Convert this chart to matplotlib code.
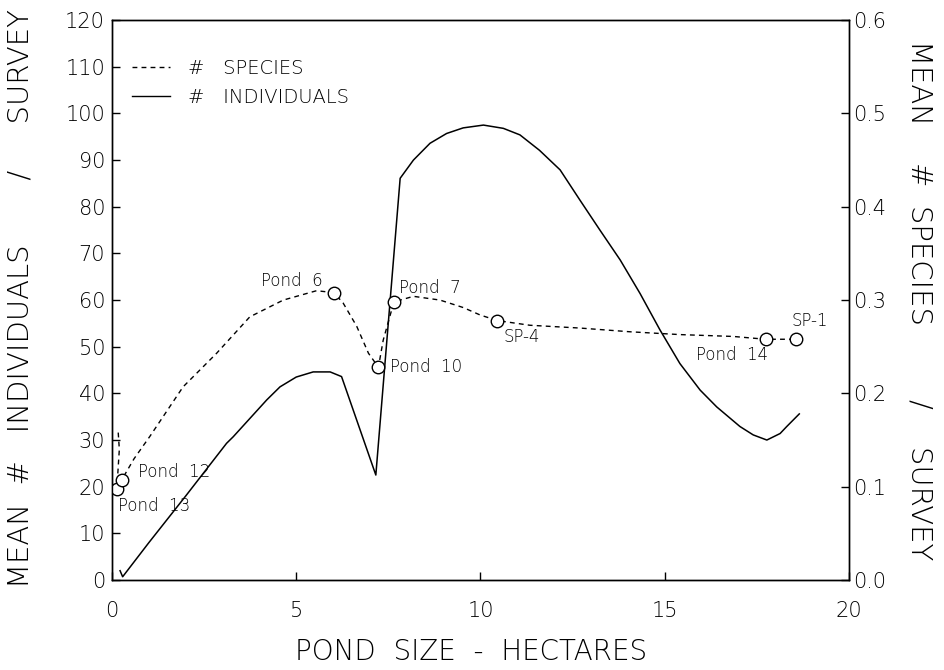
import numpy as np
import matplotlib
matplotlib.use("Agg")
import matplotlib.pyplot as plt
from matplotlib.lines import Line2D

# --- Data ---
# mean # individuals / survey (left axis)
ind_x = [0.22, 0.29, 1.0, 2.0, 3.11, 3.29, 4.2, 4.56, 5.0, 5.46, 5.92, 6.23, 7.16,
         7.82, 8.18, 8.63, 9.08, 9.53, 10.08, 10.62, 11.07, 11.6, 12.16, 12.7,
         13.24, 13.79, 14.33, 14.87, 15.41, 15.96, 16.41, 17.04, 17.4, 17.77,
         18.13, 18.31, 18.65]
ind_y = [2.0, 0.7, 8.0, 18.0, 29.3, 30.7, 38.6, 41.4, 43.5, 44.6, 44.6, 43.6, 22.5,
         86.1, 90.0, 93.6, 95.7, 96.9, 97.5, 96.8, 95.4, 92.1, 87.9, 81.4,
         75.0, 68.6, 61.4, 53.6, 46.4, 40.7, 37.1, 32.9, 31.1, 30.0,
         31.4, 32.9, 35.6]

# mean # species / survey (right axis)
sp_x = [0.17, 0.2, 0.16, 0.13, 0.26, 0.6, 1.03, 1.93, 2.84, 3.74, 4.65, 5.55, 6.02,
        6.27, 6.64, 6.96, 7.23, 7.36, 7.65, 8.18, 8.9, 9.53, 9.99, 10.46, 11.34,
        12.7, 14.06, 15.41, 16.86, 17.74, 18.56]
sp_y = [0.158, 0.140, 0.115, 0.097, 0.107, 0.130, 0.154, 0.207, 0.243, 0.282,
        0.300, 0.310, 0.308, 0.297, 0.272, 0.243, 0.228, 0.257, 0.298, 0.304,
        0.300, 0.292, 0.284, 0.278, 0.273, 0.270, 0.266, 0.263, 0.261, 0.258, 0.258]

# labelled ponds
pond_names = ["Pond  13", "Pond  12", "Pond  6", "Pond  10", "Pond  7", "SP-4",
              "Pond  14", "SP-1"]
pond_x = [0.13, 0.26, 6.02, 7.23, 7.65, 10.46, 17.74, 18.56]
pond_y = [0.097, 0.107, 0.308, 0.228, 0.298, 0.278, 0.258, 0.258]

# label offsets (points) and alignment
lab_off = [(1, -12), (12, 6), (-8, 8), (8.5, 0), (3.5, 10), (4, -12), (1.5, -11), (-3, 13)]
lab_ha = ["left", "left", "right", "left", "left", "left", "right", "left"]

plt.rcParams['font.family'] = ['DejaVu Sans']
plt.rcParams['font.weight'] = 'light'
plt.rcParams['axes.labelweight'] = 'light'

fig = plt.figure(figsize=(9.44, 6.7), dpi=100)
ax = fig.add_axes([0.1186, 0.1343, 0.7808, 0.8357])
ax2 = ax.twinx()

ax.plot(ind_x, ind_y, color='black', lw=1.1)
ax2.plot(sp_x, sp_y, color='black', lw=1.0, ls=(0, (3.5, 3)))
ax2.plot(pond_x, pond_y, ls='none', marker='o', ms=9, mfc='white', mec='black', mew=1.0)

for name, px, py, off, ha in zip(pond_names, pond_x, pond_y, lab_off, lab_ha):
    ax2.annotate(name, (px, py), xytext=off, textcoords='offset points',
                 ha=ha, va='center', fontsize=12)

ax.set_xlim(0, 20)
ax.set_ylim(0, 120)
ax2.set_ylim(0, 0.6)
ax.set_xticks([0, 5, 10, 15, 20])
ax.set_yticks(np.arange(0, 121, 10))
ax2.set_yticks([0.0, 0.1, 0.2, 0.3, 0.4, 0.5, 0.6])
ax2.set_yticklabels(['0.0', '0.1', '0.2', '0.3', '0.4', '0.5', '0.6'])

for a in (ax, ax2):
    a.tick_params(direction='in', length=6, width=1, labelsize=15)
    for s in a.spines.values():
        s.set_linewidth(1.0)
ax.tick_params(axis='y', pad=5)
ax.tick_params(axis='x', pad=15)
ax2.tick_params(axis='y', pad=3)

ax.set_xlabel('POND  SIZE  -  HECTARES', fontsize=20, va='center')
ax.xaxis.set_label_coords(0.487, -0.1286)
ax.set_ylabel('MEAN  #   INDIVIDUALS       /     SURVEY', fontsize=21, va='center')
ax.yaxis.set_label_coords(-0.1235, 0.5036)
ax2.set_ylabel('MEAN    #  SPECIES        /    SURVEY', fontsize=21, rotation=-90,
               va='center')
ax2.yaxis.set_label_coords(1.095, 0.5)

# legend
handles = [Line2D([], [], color='black', lw=1.0, ls=(0, (3.5, 3))),
           Line2D([], [], color='black', lw=1.0)]
ax.legend(handles, ['#   SPECIES', '#   INDIVIDUALS'], loc='upper left', frameon=False,
          fontsize=14, handlelength=1.95, handletextpad=0.95, borderpad=0,
          borderaxespad=0, bbox_to_anchor=(0.027, 0.93), labelspacing=0.5)

fig.savefig('out.png', dpi=100)
